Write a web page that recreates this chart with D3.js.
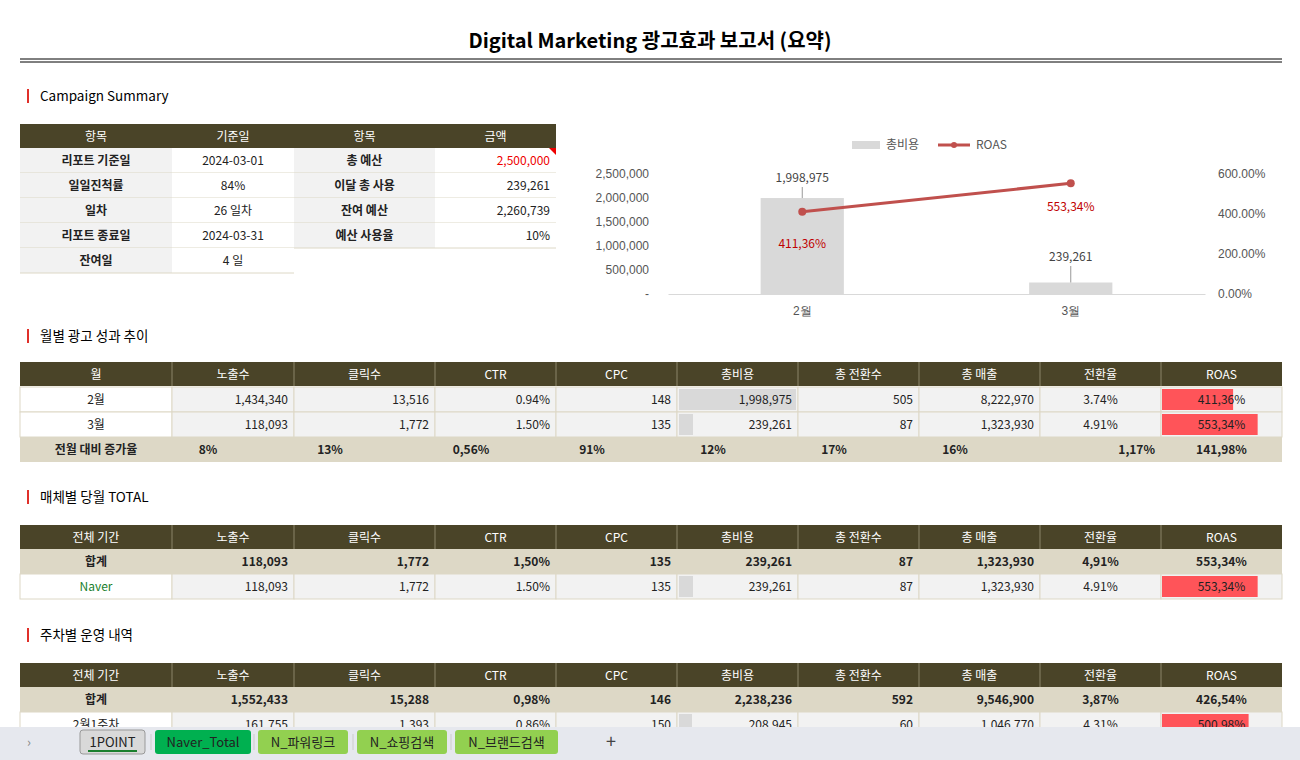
<!DOCTYPE html>
<html><head><meta charset="utf-8">
<script src="https://cdn.jsdelivr.net/npm/d3@7"></script>
<style>body{margin:0;background:#fff;font-family:"Noto Sans CJK KR","Noto Sans",sans-serif}</style>
</head><body><svg id="c" width="1300" height="760"></svg>
<script>
// summary table
const sumLabels1 = ["리포트 기준일", "일일진척률", "일차", "리포트 종료일", "잔여일"];
const sumValues1 = ["2024-03-01", "84%", "26 일차", "2024-03-31", "4 일"];
const sumLabels2 = ["총 예산", "이달 총 사용", "잔여 예산", "예산 사용율"];
const sumValues2 = ["2,500,000", "239,261", "2,260,739", "10%"];
// chart
const months = ["2월", "3월"];
const cost = [1998975, 239261];
const roas = [411.36, 553.34];
// monthly table
const cols = ["노출수", "클릭수", "CTR", "CPC", "총비용", "총 전환수", "총 매출", "전환율", "ROAS"];
const monthRows = [
  ["2월", "1,434,340", "13,516", "0.94%", "148", "1,998,975", "505", "8,222,970", "3.74%", "411.36%"],
  ["3월", "118,093", "1,772", "1.50%", "135", "239,261", "87", "1,323,930", "4.91%", "553.34%"]];
const monthChange = ["전월 대비 증가율", "8%", "13%", "0.56%", "91%", "12%", "17%", "16%", "1.17%", "141.98%"];
const mediaTotal = ["합계", "118,093", "1,772", "1.50%", "135", "239,261", "87", "1,323,930", "4.91%", "553.34%"];
const mediaRows = [["Naver", "118,093", "1,772", "1.50%", "135", "239,261", "87", "1,323,930", "4.91%", "553.34%"]];
const weekTotal = ["합계", "1,552,433", "15,288", "0.98%", "146", "2,238,236", "592", "9,546,900", "3.87%", "426.54%"];
const weekRows = [["2월1주차", "161,755", "1,393", "0.86%", "150", "208,945", "60", "1,046,770", "4.31%", "500.98%"]];
const tabs = ["1POINT", "Naver_Total", "N_파워링크", "N_쇼핑검색", "N_브랜드검색"];

const svg = d3.select("#c");
const HDR = "#4a4428", BEIGE = "#ddd8c6", GREY = "#f2f2f2", LINE = "#ddd8c6";

svg.append("text").attr("x", 650).attr("y", 48).attr("text-anchor", "middle")
  .attr("font-size", 20).attr("font-weight", "bold").text("Digital Marketing 광고효과 보고서 (요약)");
svg.append("line").attr("x1", 20).attr("x2", 1282).attr("y1", 59).attr("y2", 59).attr("stroke", "#000");
svg.append("line").attr("x1", 20).attr("x2", 1282).attr("y1", 62).attr("y2", 62).attr("stroke", "#000");

function section(y, t) {
  svg.append("rect").attr("x", 27).attr("y", y - 8).attr("width", 2).attr("height", 14).attr("fill", "#e0302a");
  svg.append("text").attr("x", 40).attr("y", y + 4).attr("font-size", 13.5).text(t);
}
section(97, "Campaign Summary");
section(337, "월별 광고 성과 추이");
section(498, "매체별 당월 TOTAL");
section(636, "주차별 운영 내역");

function cell(x, y, w, h, fill, txt, opt = {}) {
  svg.append("rect").attr("x", x).attr("y", y).attr("width", w).attr("height", h).attr("fill", fill)
    .attr("stroke", opt.stroke || "none").attr("stroke-width", 1);
  if (txt == null) return;
  const a = opt.anchor || "middle";
  const tx = a === "middle" ? x + w / 2 : a === "end" ? x + w - 6 : x + 6;
  svg.append("text").attr("x", tx).attr("y", y + h / 2 + 4.5).attr("text-anchor", a)
    .attr("font-size", 12).attr("font-weight", opt.bold ? "bold" : "normal")
    .attr("fill", opt.color || "#222").text(txt);
}

// summary table
const sx = [20, 172, 294, 435, 556];
["항목", "기준일", "항목", "금액"].forEach((t, i) => cell(sx[i], 124, sx[i + 1] - sx[i], 24, HDR, t, {color: "#fff"}));
sumLabels1.forEach((l, i) => {
  const y = 148 + i * 25;
  cell(20, y, 152, 25, GREY, l, {bold: true});
  cell(172, y, 122, 25, "#fff", sumValues1[i]);
  svg.append("line").attr("x1", 20).attr("x2", 294).attr("y1", y + 25).attr("y2", y + 25).attr("stroke", LINE);
});
sumLabels2.forEach((l, i) => {
  const y = 148 + i * 25;
  cell(294, y, 141, 25, GREY, l, {bold: true});
  cell(435, y, 121, 25, "#fff", sumValues2[i], {anchor: "end", color: i === 0 ? "#e00" : "#222"});
  svg.append("line").attr("x1", 294).attr("x2", 556).attr("y1", y + 25).attr("y2", y + 25).attr("stroke", LINE);
});
svg.append("path").attr("d", "M549,148 L556,148 L556,155 Z").attr("fill", "#e00");

// chart
const x = d3.scaleBand().domain(months).range([668, 1205]).paddingInner(0.69).paddingOuter(0.345);
const yL = d3.scaleLinear().domain([0, 2500000]).range([294, 174]);
const yR = d3.scaleLinear().domain([0, 600]).range([294, 174]);
const gL = svg.append("g").attr("transform", "translate(652,0)")
  .call(d3.axisLeft(yL).tickValues([0, 500000, 1000000, 1500000, 2000000, 2500000]).tickSize(0)
    .tickFormat(d => d === 0 ? "-" : d3.format(",")(d)));
const gR = svg.append("g").attr("transform", "translate(1215,0)")
  .call(d3.axisRight(yR).tickValues([0, 200, 400, 600]).tickSize(0).tickFormat(d => d.toFixed(2) + "%"));
[gL, gR].forEach(g => { g.select(".domain").remove(); g.selectAll("text").attr("font-size", 12).attr("fill", "#555").attr("font-family", "inherit"); });
const gX = svg.append("g").attr("transform", "translate(0,294)").call(d3.axisBottom(x).tickSize(0).tickPadding(12));
gX.select(".domain").attr("stroke", "#d9d9d9");
gX.selectAll("text").attr("font-size", 12).attr("fill", "#555").attr("font-family", "inherit");
svg.selectAll(".bar").data(cost).enter().append("rect")
  .attr("x", (d, i) => x(months[i])).attr("width", x.bandwidth())
  .attr("y", d => yL(d)).attr("height", d => 294 - yL(d)).attr("fill", "#d9d9d9");
cost.forEach((d, i) => {
  const cx = x(months[i]) + x.bandwidth() / 2;
  const ly = i === 0 ? 177 : 256;
  svg.append("text").attr("x", cx).attr("y", ly + 5).attr("text-anchor", "middle").attr("font-size", 12).attr("fill", "#444").text(d3.format(",")(d));
  svg.append("line").attr("x1", cx).attr("x2", cx).attr("y1", ly + 10).attr("y2", yL(d)).attr("stroke", "#999");
});
const line = d3.line().x((d, i) => x(months[i]) + x.bandwidth() / 2).y(d => yR(d));
svg.append("path").datum(roas).attr("d", line).attr("fill", "none").attr("stroke", "#c0504d").attr("stroke-width", 3);
roas.forEach((d, i) => {
  const cx = x(months[i]) + x.bandwidth() / 2;
  svg.append("circle").attr("cx", cx).attr("cy", yR(d)).attr("r", 4).attr("fill", "#c0504d");
  svg.append("text").attr("x", cx).attr("y", yR(d) + (i === 0 ? 36 : 28)).attr("text-anchor", "middle")
    .attr("font-size", 12).attr("fill", "#c00000").text(d.toFixed(2).replace(".", ",") + "%");
});
svg.append("rect").attr("x", 852).attr("y", 141).attr("width", 28).attr("height", 8).attr("fill", "#d9d9d9");
svg.append("text").attr("x", 886).attr("y", 149).attr("font-size", 12).attr("fill", "#555").text("총비용");
svg.append("line").attr("x1", 938).attr("x2", 970).attr("y1", 145).attr("y2", 145).attr("stroke", "#c0504d").attr("stroke-width", 3);
svg.append("circle").attr("cx", 954).attr("cy", 145).attr("r", 3).attr("fill", "#c0504d");
svg.append("text").attr("x", 976).attr("y", 149).attr("font-size", 12).attr("fill", "#555").text("ROAS");

// wide tables
const wx = [20, 172, 294, 435, 556, 677, 798, 919, 1040, 1161, 1282];
const costScale = d3.scaleLinear().domain([0, 1998975]).range([0, 117]);
const roasScale = d3.scaleLinear().domain([0, 700]).range([0, 121]);
const num = s => +s.replace(/[,%]/g, "");
function header(y, first) {
  [first].concat(cols).forEach((t, i) => cell(wx[i], y, wx[i + 1] - wx[i], 24, HDR, t, {color: "#fff"}));
  for (let i = 1; i < 10; i++) svg.append("line").attr("x1", wx[i]).attr("x2", wx[i]).attr("y1", y).attr("y2", y + 24).attr("stroke", "#8a8468");
}
function dataRow(y, r, opt = {}) {
  r.forEach((v, i) => {
    const w = wx[i + 1] - wx[i];
    const fill = i === 0 ? "#fff" : GREY;
    cell(wx[i], y, w, 25, fill, null, {stroke: LINE});
    if (i === 5) svg.append("rect").attr("x", wx[i] + 2).attr("y", y + 2).attr("width", Math.max(costScale(num(v)), 13)).attr("height", 21).attr("fill", "#d9d9d9");
    if (i === 9) svg.append("rect").attr("x", wx[i] + 1).attr("y", y + 2).attr("width", roasScale(num(v))).attr("height", 21).attr("fill", "#ff5459");
    const anchor = i === 0 ? "middle" : (i === 8 || i === 9) ? "middle" : "end";
    cell(wx[i], y, w, 25, "none", i === 9 ? v.replace(".", ",") : v, {anchor, color: i === 0 && opt.green ? "#1a7f2e" : "#222"});
  });
}
function totalRow(y, r, changeStyle) {
  cell(20, y, 1262, 25, BEIGE, null);
  r.forEach((v, i) => {
    const w = wx[i + 1] - wx[i];
    let anchor = changeStyle ? (i === 8 ? "end" : "middle") : (i === 0 || i >= 8 ? "middle" : "end");
    let xx = wx[i];
    if (changeStyle && i > 0 && i < 8) xx = wx[i] - w / 2 + 36;
    cell(xx, y, w, 25, "none", v.replace(/(\d)\.(\d\d%)/, "$1,$2"), {anchor, bold: true});
  });
}
header(362, "월");
monthRows.forEach((r, i) => dataRow(387 + i * 25, r));
totalRow(437, monthChange, true);
header(525, "전체 기간");
totalRow(549, mediaTotal, false);
mediaRows.forEach((r, i) => dataRow(574 + i * 25, r, {green: true}));
header(663, "전체 기간");
totalRow(687, weekTotal, false);
weekRows.forEach((r, i) => dataRow(712 + i * 25, r));

// sheet tabs
svg.append("rect").attr("x", 0).attr("y", 727).attr("width", 1300).attr("height", 33).attr("fill", "#e6e8ee");
svg.append("text").attr("x", 27).attr("y", 747).attr("font-size", 13).attr("fill", "#888").text("›");
const tabX = [80, 155, 258, 357, 455], tabW = [65, 96, 90, 90, 103];
const tabFill = ["#d9d9d9", "#00b050", "#92d050", "#92d050", "#92d050"];
tabs.forEach((t, i) => {
  svg.append("rect").attr("x", tabX[i]).attr("y", 730).attr("width", tabW[i]).attr("height", 24).attr("rx", 3).attr("fill", tabFill[i])
    .attr("stroke", i === 0 ? "#999" : "none");
  svg.append("text").attr("x", tabX[i] + tabW[i] / 2).attr("y", 747).attr("text-anchor", "middle").attr("font-size", 13).attr("fill", "#222").text(t);
  if (i > 0) svg.append("line").attr("x1", tabX[i] - 4).attr("x2", tabX[i] - 4).attr("y1", 734).attr("y2", 750).attr("stroke", "#ccc");
});
svg.append("line").attr("x1", 88).attr("x2", 137).attr("y1", 751).attr("y2", 751).attr("stroke", "#1a7f2e").attr("stroke-width", 2);
svg.append("text").attr("x", 611).attr("y", 748).attr("text-anchor", "middle").attr("font-size", 18).attr("fill", "#444").text("+");
</script></body></html>
